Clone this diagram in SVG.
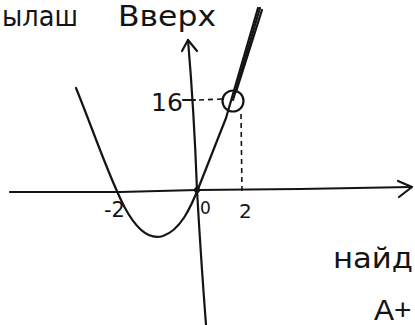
<svg xmlns="http://www.w3.org/2000/svg" width="415" height="325" viewBox="0 0 415 325">
<style>
.ln{fill:none;stroke:#141414;stroke-width:2.2;stroke-linecap:round;stroke-linejoin:round}
.ds{fill:none;stroke:#141414;stroke-width:1.6;stroke-dasharray:5 4}
.hw{font-family:"DejaVu Sans","Liberation Sans",sans-serif;fill:#141414}
</style>
<rect width="415" height="325" fill="#ffffff"/>
<g id="header-text">
<text class="hw" x="2" y="26" font-size="28" textLength="76" lengthAdjust="spacingAndGlyphs">ылаш</text>
<text class="hw" x="118" y="26" font-size="28" textLength="98" lengthAdjust="spacingAndGlyphs">Вверх</text>
</g>
<g id="axes">
<path class="ln" d="M10,192 L120,192 L197,190 L300,189 L411,187"/>
<path class="ln" d="M398,181 L412,187 L399,197"/>
<path class="ln" d="M188,40 Q194,110 197,190 Q201,260 206,325"/>
<path class="ln" d="M182,51 L188,40 L197,51"/>
</g>
<g id="parabola">
<path class="ln" d="M76,88 C95,135 110,180 125,208 C138,232 150,240 163,236 C180,230 190,210 200,184 L226,118 L258,8"/>
<path class="ln" stroke-width="2.6" d="M236,92 L262,10"/>
<path class="ln" d="M260,8 L233,100"/>
<circle cx="197" cy="190" r="3" fill="#141414"/>
</g>
<g id="point-2-16">
<circle class="ln" cx="233" cy="101" r="10.5"/>
<path class="ln" d="M183,100 L195,100"/>
<path class="ds" d="M199,100 L222,99"/>
<path class="ds" d="M241,114 L242,192"/>
</g>
<g id="labels">
<text class="hw" x="151" y="111" font-size="25">16</text>
<text class="hw" x="104" y="217" font-size="21">-2</text>
<text class="hw" x="200" y="214" font-size="17">0</text>
<text class="hw" x="239" y="218" font-size="20">2</text>
</g>
<g id="footer-text">
<text class="hw" x="333" y="268" font-size="28" textLength="80" lengthAdjust="spacingAndGlyphs">найд</text>
<text x="374" y="320" font-size="30" font-family="'Liberation Sans',sans-serif" fill="#141414">A+</text>
</g>
</svg>
